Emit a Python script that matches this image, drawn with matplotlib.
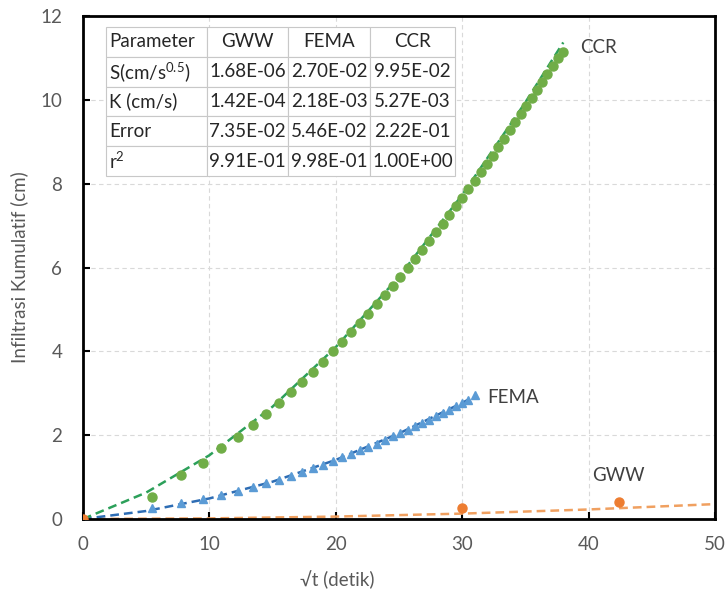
import matplotlib
matplotlib.use("Agg")
import matplotlib.pyplot as plt

# ── DATA ────────────────────────────────────────────────────────────────────
# measured points (x = sqrt(t), y = cumulative infiltration in cm)
ccr_x = [5.48, 7.75, 9.49, 10.95, 12.25, 13.42, 14.49, 15.49, 16.43, 17.32,
         18.17, 18.97, 19.75, 20.49, 21.21, 21.91, 22.58, 23.24, 23.87, 24.49,
         25.10, 25.69, 26.27, 26.83, 27.39, 27.93, 28.46, 28.98, 29.50, 30.00,
         30.50, 30.98, 31.46, 31.94, 32.40, 32.86, 33.32, 33.76, 34.21, 34.64,
         35.07, 35.50, 35.92, 36.33, 36.74, 37.15, 37.55, 37.95]
ccr_y = [0.53, 1.05, 1.34, 1.69, 1.96, 2.24, 2.51, 2.77, 3.02, 3.27,
         3.51, 3.75, 4.00, 4.23, 4.45, 4.68, 4.90, 5.12, 5.34, 5.56,
         5.77, 5.99, 6.20, 6.42, 6.63, 6.84, 7.05, 7.25, 7.46, 7.66,
         7.87, 8.07, 8.27, 8.47, 8.67, 8.87, 9.07, 9.27, 9.46, 9.66,
         9.85, 10.05, 10.24, 10.43, 10.62, 10.81, 10.99, 11.15]

fema_x = ccr_x[:32]
fema_y = [0.27, 0.38, 0.48, 0.58, 0.67, 0.76, 0.85, 0.94, 1.03, 1.12,
          1.21, 1.29, 1.38, 1.47, 1.55, 1.64, 1.72, 1.80, 1.89, 1.97,
          2.05, 2.13, 2.21, 2.29, 2.37, 2.45, 2.53, 2.61, 2.69, 2.77,
          2.85, 2.95]

gww_x = [0.0, 30.0, 42.43]
gww_y = [0.0, 0.25, 0.40]

# fitted (Philip) curves
ccr_fit_x = [0, 5, 10, 15, 20, 25, 30, 35, 38]
ccr_fit_y = [0, 0.63, 1.52, 2.68, 4.10, 5.78, 7.73, 9.94, 11.37]
fema_fit_x = [0, 5, 10, 15, 20, 25, 30, 31]
fema_fit_y = [0, 0.19, 0.49, 0.89, 1.41, 2.04, 2.77, 2.93]
gww_fit_x = [0, 10, 20, 30, 40, 50]
gww_fit_y = [0, 0.014, 0.057, 0.128, 0.227, 0.355]

# parameter table
table_cols = ["Parameter", "GWW", "FEMA", "CCR"]
table_rows = [
    ["S(cm/s$^{0.5}$)", "1.68E-06", "2.70E-02", "9.95E-02"],
    ["K (cm/s)", "1.42E-04", "2.18E-03", "5.27E-03"],
    ["Error", "7.35E-02", "5.46E-02", "2.22E-01"],
    ["r$^{2}$", "9.91E-01", "9.98E-01", "1.00E+00"],
]

# ── STYLE ───────────────────────────────────────────────────────────────────
plt.rcParams["font.family"] = ["Lato", "DejaVu Sans"]
plt.rcParams["mathtext.fontset"] = "custom"
plt.rcParams["mathtext.rm"] = "Lato"
plt.rcParams["mathtext.it"] = "Lato:italic"
plt.rcParams["mathtext.bf"] = "Lato:bold"

GRAY = "#595959"
TXT = "#404040"
FS = 13.5

fig = plt.figure(figsize=(7.26, 5.94), dpi=100)
ax = fig.add_axes([0.1143, 0.1263, 0.8705, 0.8467])

# fitted lines
ax.plot(gww_fit_x, gww_fit_y, color="#F0A060", lw=1.8, ls=(0, (3.5, 2)), zorder=2)
ax.plot(fema_fit_x, fema_fit_y, color="#2E6DB4", lw=1.8, ls=(0, (3.5, 2)), zorder=2)
ax.plot(ccr_fit_x, ccr_fit_y, color="#2CA05A", lw=1.8, ls=(0, (3.5, 2)), zorder=2)

# measured points
ax.plot(gww_x, gww_y, "o", color="#ED7D31", ms=6.5, zorder=3)
ax.plot(fema_x, fema_y, "^", color="#5B9BD5", ms=5.5, zorder=3)
ax.plot(ccr_x, ccr_y, "o", color="#70AD47", ms=6.5, zorder=3)

# series labels
ax.text(39.3, 11.26, "CCR", color=TXT, fontsize=FS, va="center", ha="left")
ax.text(32.0, 2.89, "FEMA", color=TXT, fontsize=FS, va="center", ha="left")
ax.text(40.3, 1.03, "GWW", color=TXT, fontsize=FS, va="center", ha="left")

ax.set_xlim(0, 50)
ax.set_ylim(0, 12)
ax.set_xticks(range(0, 51, 10))
ax.set_yticks(range(0, 13, 2))
ax.grid(True, color="#D9D9D9", ls=(0, (4, 3)), lw=0.8)
ax.set_axisbelow(True)

for s in ax.spines.values():
    s.set_color("black")
    s.set_linewidth(2)

ax.tick_params(direction="in", length=5, width=1.5, color="black",
               labelcolor=GRAY, labelsize=FS)
ax.tick_params(axis="x", pad=12)
ax.tick_params(axis="y", pad=15)
ax.set_xlabel("√t (detik)", color=GRAY, fontsize=FS)
ax.set_ylabel("Infiltrasi Kumulatif (cm)", color=GRAY, fontsize=FS)
ax.xaxis.set_label_coords(0.402, -0.103)
ax.yaxis.set_label_coords(-0.086, 0.5)

# ── TABLE ───────────────────────────────────────────────────────────────────
tbl = ax.table(cellText=table_rows, colLabels=table_cols,
               colWidths=[0.160, 0.128, 0.130, 0.134],
               bbox=[0.0364, 0.682, 0.552, 0.296], zorder=5)
tbl.auto_set_font_size(False)
tbl.set_fontsize(FS)
for (r, c), cell in tbl.get_celld().items():
    cell.set_edgecolor("#C8C8C8")
    cell.set_linewidth(0.8)
    cell.set_facecolor("white")
    cell.get_text().set_color("#262626")
    if c == 0:
        cell.get_text().set_ha("left")
        cell.PAD = 0.03
    else:
        cell.get_text().set_ha("center")

plt.savefig("out.png", dpi=100)
